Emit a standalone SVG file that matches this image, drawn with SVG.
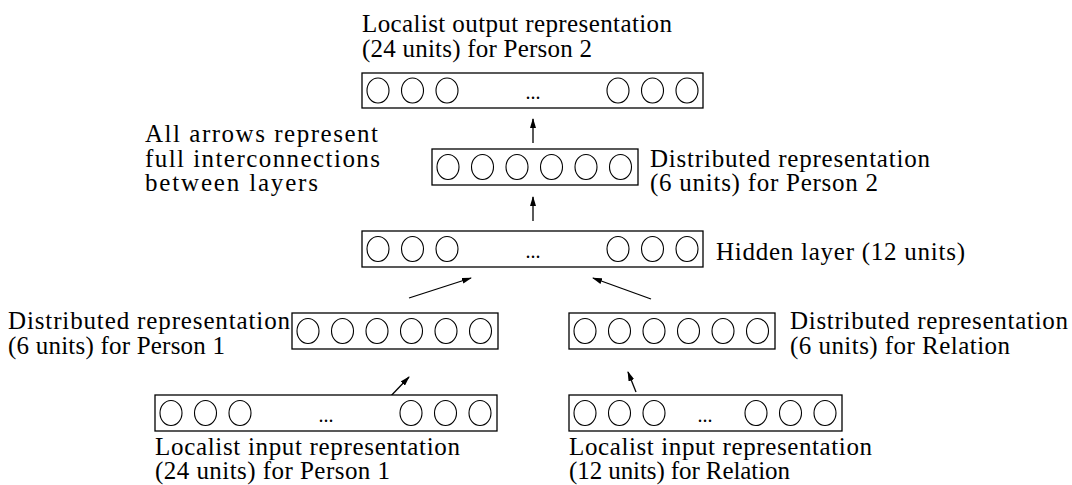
<svg xmlns="http://www.w3.org/2000/svg" width="1072" height="485" viewBox="0 0 1072 485">
  <defs>
    <style>
      .box { fill: #fff; stroke: #000; stroke-width: 1.3; }
      .unit { fill: none; stroke: #000; stroke-width: 1.1; }
      .lbl { font-family: "Liberation Serif", "Times New Roman", serif; font-size: 25px; fill: #000; }
      .dots { font-family: "Liberation Serif", serif; font-size: 20px; fill: #000; text-anchor: middle; }
      .conn { stroke: #000; stroke-width: 1.3; fill: none; marker-end: url(#head); }
    </style>
    <marker id="head" viewBox="0 0 10 6" refX="9" refY="3" markerWidth="10" markerHeight="6" markerUnits="userSpaceOnUse" orient="auto">
      <path d="M0,0 L10,3 L0,6 z" fill="#000"/>
    </marker>
    <!-- a row of three units, first centre at x=0 -->
    <g id="three">
      <ellipse class="unit" cx="0" cy="0" rx="11" ry="12.5"/>
      <ellipse class="unit" cx="34.5" cy="0" rx="11" ry="12.5"/>
      <ellipse class="unit" cx="69" cy="0" rx="11" ry="12.5"/>
    </g>
    <g id="six">
      <use href="#three"/>
      <use href="#three" x="103.5"/>
    </g>
  </defs>

  <rect width="1072" height="485" fill="#fff"/>

  <!-- connectors -->
  <g id="connectors">
    <line class="conn" x1="533" y1="143" x2="533" y2="119"/>
    <line class="conn" x1="533" y1="221" x2="533" y2="197"/>
    <line class="conn" x1="409" y1="298" x2="471" y2="278"/>
    <line class="conn" x1="651" y1="299" x2="593" y2="278"/>
    <line class="conn" x1="387" y1="400" x2="409" y2="377"/>
    <line class="conn" x1="636" y1="392" x2="628" y2="372"/>
  </g>

  <!-- localist output, person 2 -->
  <g id="out-person2">
    <text class="lbl" x="362" y="32" textLength="310" lengthAdjust="spacing">Localist output representation</text>
    <text class="lbl" x="362" y="57" textLength="230" lengthAdjust="spacing">(24 units) for Person 2</text>
    <rect class="box" x="362" y="73" width="341" height="35"/>
    <use href="#three" x="378" y="90.5"/>
    <text class="dots" x="533" y="99">...</text>
    <use href="#three" x="618" y="90.5"/>
  </g>

  <!-- note -->
  <g id="note">
    <text class="lbl" x="145" y="142" textLength="233" lengthAdjust="spacing">All arrows represent</text>
    <text class="lbl" x="145" y="166.5" textLength="235" lengthAdjust="spacing">full interconnections</text>
    <text class="lbl" x="145" y="191" textLength="173" lengthAdjust="spacing">between layers</text>
  </g>

  <!-- distributed, person 2 -->
  <g id="dist-person2">
    <rect class="box" x="432" y="149" width="206" height="36"/>
    <use href="#six" x="448" y="167"/>
    <text class="lbl" x="650" y="166.5" textLength="280" lengthAdjust="spacing">Distributed representation</text>
    <text class="lbl" x="650" y="191" textLength="228" lengthAdjust="spacing">(6 units) for Person 2</text>
  </g>

  <!-- hidden layer -->
  <g id="hidden">
    <rect class="box" x="362" y="231" width="341" height="36"/>
    <use href="#three" x="378" y="249"/>
    <text class="dots" x="533" y="258">...</text>
    <use href="#three" x="618" y="249"/>
    <text class="lbl" x="716" y="260" textLength="249" lengthAdjust="spacing">Hidden layer (12 units)</text>
  </g>

  <!-- distributed, person 1 -->
  <g id="dist-person1">
    <text class="lbl" x="8" y="329" textLength="282" lengthAdjust="spacing">Distributed representation</text>
    <text class="lbl" x="8" y="353.5" textLength="217" lengthAdjust="spacing">(6 units) for Person 1</text>
    <rect class="box" x="292" y="313" width="206" height="36"/>
    <use href="#six" x="308" y="331"/>
  </g>

  <!-- distributed, relation -->
  <g id="dist-relation">
    <rect class="box" x="569" y="313" width="206" height="36"/>
    <use href="#six" x="585" y="331"/>
    <text class="lbl" x="790" y="329" textLength="278" lengthAdjust="spacing">Distributed representation</text>
    <text class="lbl" x="790" y="353.5" textLength="220" lengthAdjust="spacing">(6 units) for Relation</text>
  </g>

  <!-- localist input, person 1 -->
  <g id="in-person1">
    <rect class="box" x="155" y="395" width="342" height="36"/>
    <use href="#three" x="171" y="413"/>
    <text class="dots" x="326" y="422">...</text>
    <use href="#three" x="411" y="413"/>
    <text class="lbl" x="155" y="454.5" textLength="305" lengthAdjust="spacing">Localist input representation</text>
    <text class="lbl" x="155" y="479" textLength="235" lengthAdjust="spacing">(24 units) for Person 1</text>
  </g>

  <!-- localist input, relation -->
  <g id="in-relation">
    <rect class="box" x="569" y="395" width="273" height="36"/>
    <use href="#three" x="585" y="413"/>
    <text class="dots" x="705" y="422">...</text>
    <use href="#three" x="756" y="413"/>
    <text class="lbl" x="569" y="454.5" textLength="303" lengthAdjust="spacing">Localist input representation</text>
    <text class="lbl" x="569" y="479" textLength="221" lengthAdjust="spacing">(12 units) for Relation</text>
  </g>
</svg>
